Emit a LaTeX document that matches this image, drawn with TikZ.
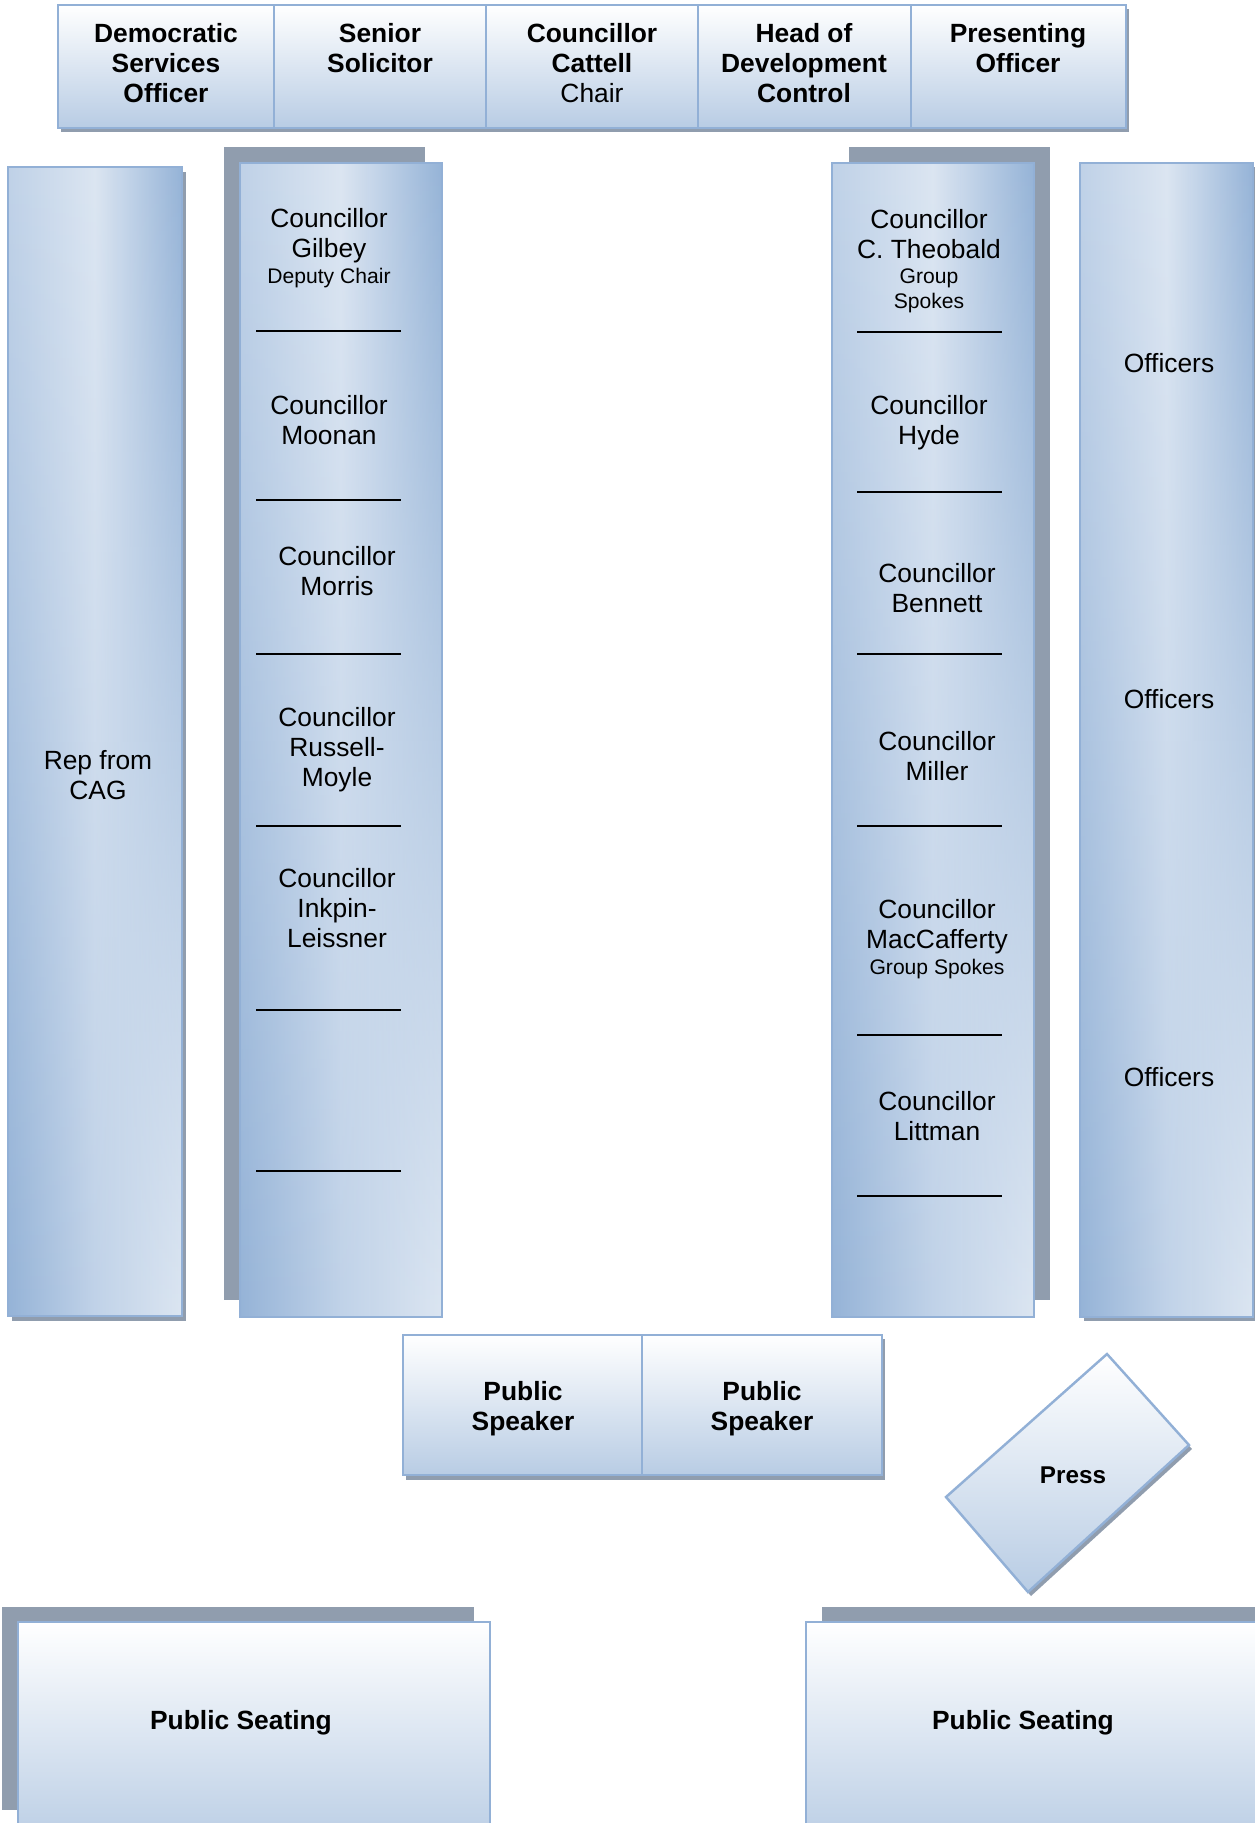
\documentclass[tikz,border=0pt]{standalone}
\usepackage{fontspec}
\setmainfont{Liberation Sans}
\usepackage{tikz}
\usetikzlibrary{fadings}
\usetikzlibrary{positioning}
\usepackage{color}
\definecolor{coldark}{RGB}{149, 179, 215}
\definecolor{colmid}{RGB}{192, 210, 232}
\definecolor{collight}{RGB}{220, 230, 242}
\definecolor{seatblue}{RGB}{184, 204, 228}
\definecolor{edgeblue}{RGB}{146, 176, 214}
\definecolor{shadowgray}{RGB}{144, 157, 174}
\tikzfading[name=fadedown, top color=transparent!100, bottom color=transparent!0]
\tikzset{
  colbox/.style={left color=colmid, right color=coldark, middle color=collight,
    postaction={path fading=fadedown, left color=coldark, right color=collight, middle color=colmid},
    postaction={draw=edgeblue, line width=0.7pt}},
  seatbox/.style={top color=white, bottom color=seatblue, draw=edgeblue, line width=0.7pt},
  shadowbox/.style={fill=shadowgray},
  rule/.style={line width=0.7pt},
  lbl/.style={font=\fontsize{7.5}{8.55}\selectfont, align=center, inner sep=0pt},
  lblb/.style={lbl, font=\fontsize{7.5}{8.55}\selectfont\bfseries},
  lbls/.style={lbl, font=\fontsize{6}{7.1}\selectfont},
  lblm/.style={lbl, font=\fontsize{6.9}{7.9}\selectfont\bfseries},
}

\begin{document}
\begin{tikzpicture}[x=0.01cm, y=-0.01cm]
            \useasboundingbox (0,0) rectangle (1255,1823);
            % Top table
            \fill[shadowbox] (61,9) rectangle (1129,132);
            \foreach \xa/\xb in {58/274, 274/486, 486/698, 698/911, 911/1126}
                \path[seatbox] (\xa,5) rectangle (\xb,128);
            \node[lblb] (dso)       at (166,63)  {Democratic\\Services\\Officer};
            \node[lblb] (solicitor) at (380,48)  {Senior\\Solicitor};
            \node[lblb] (chair)     at (592,63)  {Councillor\\Cattell\\\mdseries Chair};
            \node[lblb] (hdc)       at (804,63)  {Head of\\Development\\Control};
            \node[lblb] (presenter) at (1018,48) {Presenting\\Officer};
            % Rep from CAG
            \fill[shadowbox] (12,172) rectangle (186,1321);
            \path[colbox]    (8,167) rectangle (182,1316);
            \node[lbl] (cag) at (98,775) {Rep from\\CAG};
            % Members, left side
            \fill[shadowbox] (224,147) rectangle (425,1300);
            \path[colbox]    (240,163) rectangle (442,1317);
            \foreach \y in {331, 500, 654, 826, 1010, 1171}
                \draw[rule] (256,\y) -- (401,\y);
            \node[lbl]  (gilbey)     at (329,236) {Councillor\\Gilbey};
            \node[lbls] (gilbeyrole) at (329,278) {Deputy Chair};
            \node[lbl]  (moonan)     at (329,420) {Councillor\\Moonan};
            \node[lbl]  (morris)     at (337,571) {Councillor\\Morris};
            \node[lbl]  (russell)    at (337,750) {Councillor\\Russell-\\Moyle};
            \node[lbl]  (inkpin)     at (337,908) {Councillor\\Inkpin-\\Leissner};
            % Members, right side
            \fill[shadowbox] (849,147) rectangle (1050,1300);
            \path[colbox]    (832,163) rectangle (1034,1317);
            \foreach \y in {332, 492, 654, 826, 1035, 1196}
                \draw[rule] (857,\y) -- (1002,\y);
            \node[lbl]  (theobald)     at (929,234)  {Councillor\\C. Theobald};
            \node[lbls] (theobaldrole) at (929,291)  {Group\\Spokes};
            \node[lbl]  (hyde)         at (929,423)  {Councillor\\Hyde};
            \node[lbl]  (bennett)      at (937,588)  {Councillor\\Bennett};
            \node[lbl]  (miller)       at (937,756)  {Councillor\\Miller};
            \node[lbl]  (maccafferty)  at (937,927)  {Councillor\\MacCafferty};
            \node[lbls] (maccrole)     at (937,969)  {Group Spokes};
            \node[lbl]  (littman)      at (937,1116) {Councillor\\Littman};
            % Officers
            \fill[shadowbox] (1084,167) rectangle (1257,1321);
            \path[colbox]    (1080,163) rectangle (1253,1317);
            \node[lbl] (officersa) at (1169,363)  {Officers};
            \node[lbl] (officersb) at (1169,699)  {Officers};
            \node[lbl] (officersc) at (1169,1077) {Officers};
            % Speakers
            \fill[shadowbox] (406,1339) rectangle (885,1480);
            \path[seatbox]   (403,1335) rectangle (642,1475);
            \path[seatbox]   (642,1335) rectangle (882,1475);
            \node[lblb] (speakera) at (523,1409) {Public\\Speaker};
            \node[lblb] (speakerb) at (762,1409) {Public\\Speaker};
            % Press
            \fill[shadowbox] (1110,1358) -- (1192,1449) -- (1031,1596) -- (949,1501) -- cycle;
            \path[seatbox]   (1107,1354) -- (1189,1445) -- (1028,1592) -- (946,1497) -- cycle;
            \node[lblm] (press) at (1073,1475) {Press};
            % Public seating
            \fill[shadowbox] (2,1607) rectangle (474,1810);
            \path[seatbox]   (18,1622) rectangle (490,1850);
            \fill[shadowbox] (822,1607) rectangle (1275,1850);
            \path[seatbox]   (806,1622) rectangle (1275,1850);
            \node[lblb] (seatinga) at (241,1723)  {Public Seating};
            \node[lblb] (seatingb) at (1023,1723) {Public Seating};
\end{tikzpicture}
\end{document}
